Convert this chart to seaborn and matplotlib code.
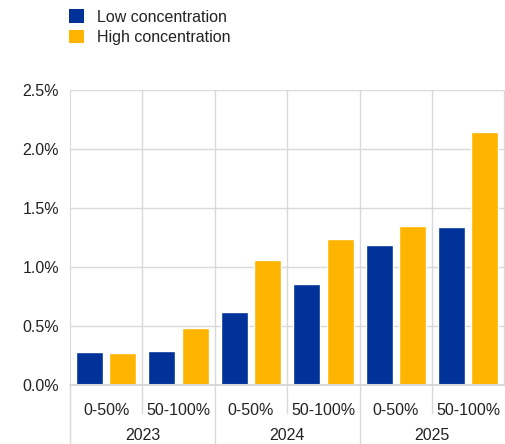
import matplotlib
matplotlib.use("Agg")
import matplotlib.pyplot as plt
import seaborn as sns
import pandas as pd
from matplotlib.ticker import FuncFormatter
from matplotlib.patches import Patch

years = ["2023", "2024", "2025"]
subcats = ["0-50%", "50-100%"]
series = ["Low concentration", "High concentration"]
low = [0.28, 0.29, 0.62, 0.86, 1.19, 1.34]
high = [0.27, 0.48, 1.06, 1.24, 1.35, 2.14]
colors = ["#003299", "#FFB400"]

cats = [f"{y} {s}" for y in years for s in subcats]
df = pd.DataFrame({
    "cat": cats * 2,
    "value": low + high,
    "series": [series[0]] * 6 + [series[1]] * 6,
})

sns.set_style("white")
plt.rcParams["font.family"] = ["Liberation Sans", "DejaVu Sans"]

W, H = 505, 444
FS = 11.5
fig = plt.figure(figsize=(W / 100, H / 100), dpi=100)
ax = fig.add_axes([70 / W, 1 - 385 / H, 434.5 / W, 295 / H])

sns.barplot(data=df, x="cat", y="value", hue="series", order=cats,
            hue_order=series, palette=colors, width=0.92, gap=0.19,
            saturation=1, ax=ax, legend=False)

grid_c = "#d9d9d9"
ax.set_ylim(0, 2.5)
ax.set_xlim(-0.5, 5.5)
ax.set_yticks([0, 0.5, 1.0, 1.5, 2.0, 2.5])
ax.yaxis.set_major_formatter(FuncFormatter(lambda v, p: f"{v:.1f}%"))
ax.yaxis.grid(True, color=grid_c, linewidth=1)
ax.set_axisbelow(True)
for x in [0.5, 1.5, 2.5, 3.5, 4.5, 5.5]:
    ax.axvline(x, color=grid_c, linewidth=1, zorder=0)

for sp in ["top", "right"]:
    ax.spines[sp].set_visible(False)
ax.spines["left"].set_color(grid_c)
ax.spines["bottom"].set_color(grid_c)
ax.spines["bottom"].set_linewidth(1.5)

ax.set_xlabel("")
ax.set_ylabel("")
ax.set_xticks(range(6))
ax.set_xticklabels(subcats * 3)
ax.tick_params(axis="both", length=0, labelsize=FS, colors="#222222")
ax.tick_params(axis="x", pad=13)
ax.tick_params(axis="y", pad=8)

trans = ax.get_xaxis_transform()
for x in [-0.5, 1.5, 3.5]:
    ax.plot([x, x], [0, -0.2], transform=trans, color=grid_c, lw=1, clip_on=False)
for x in [0.5, 2.5, 4.5]:
    ax.plot([x, x], [0, -0.095], transform=trans, color=grid_c, lw=1, clip_on=False)
for i, y in enumerate(years):
    ax.text(2 * i + 0.5, -(435 - 385) / 295, y, transform=trans, ha="center",
            va="center", fontsize=FS, color="#222222")

handles = [Patch(facecolor=c, edgecolor="none") for c in colors]
fig.legend(handles, series, loc="upper left", bbox_to_anchor=(63 / W, 1 - 3 / H),
           frameon=False, fontsize=FS, handlelength=0.9, handleheight=0.9,
           handletextpad=0.85, labelspacing=0.35, borderaxespad=0,
           labelcolor="#222222")

fig.savefig("out.png", dpi=100)
